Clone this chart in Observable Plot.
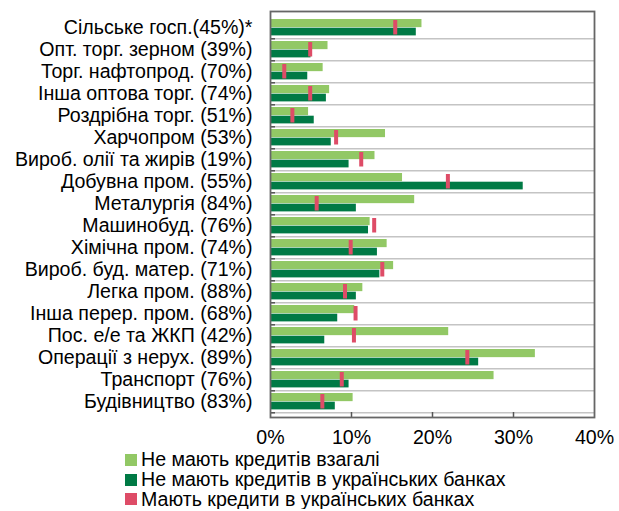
<!DOCTYPE html>
<html>
<head>
<meta charset="utf-8">
<script src="https://cdn.jsdelivr.net/npm/d3@7"></script>
<script src="https://cdn.jsdelivr.net/npm/@observablehq/plot@0.6"></script>
<style>
  body { margin: 0; background: #fff; font-family: "Liberation Sans", Arial, sans-serif; }
  #legend { margin-left: 125px; margin-top: 0px; font-size: 19.6px; color: #000; }
  .item { display: flex; align-items: center; height: 19.8px; white-space: nowrap; }
  .sw { width: 12px; height: 12px; margin-right: 4px; flex: none; }
</style>
</head>
<body>
<div id="chart"></div>
<div id="legend"></div>
<script>
const categories = [
  "Сільське госп.(45%)*",
  "Опт. торг. зерном (39%)",
  "Торг. нафтопрод. (70%)",
  "Інша оптова торг. (74%)",
  "Роздрібна торг. (51%)",
  "Харчопром (53%)",
  "Вироб. олії та жирів (19%)",
  "Добувна пром. (55%)",
  "Металургія (84%)",
  "Машинобуд. (76%)",
  "Хімічна пром. (74%)",
  "Вироб. буд. матер. (71%)",
  "Легка пром. (88%)",
  "Інша перер. пром. (68%)",
  "Пос. е/е та ЖКП (42%)",
  "Операції з нерух. (89%)",
  "Транспорт (76%)",
  "Будівництво (83%)"
];
const noCredit     = [18.7, 7.1, 6.5, 7.3, 4.7, 14.2, 12.9, 16.3, 17.8, 12.3, 14.4, 15.2, 11.4, 10.4, 22.0, 32.7, 27.6, 10.2];
const noUaCredit   = [18.0, 5.0, 4.6, 6.9, 5.4, 7.5, 9.7, 31.2, 10.6, 12.1, 13.2, 13.5, 10.6, 8.3, 6.7, 25.7, 9.7, 8.0];
const haveUaCredit = [15.4, 4.9, 1.7, 4.9, 2.7, 8.1, 11.2, 21.9, 5.7, 12.8, 9.9, 13.8, 9.2, 10.5, 10.3, 24.3, 8.8, 6.4];
const xTicks = [0, 10, 20, 30, 40];
const seriesNames = ["Не мають кредитів взагалі", "Не мають кредитів в українських банках", "Мають кредити в українських банках"];
const colors = ["#92c865", "#007a45", "#de4c67"];

const rows = categories.map((c, i) => ({cat: c, a: noCredit[i], b: noUaCredit[i], c: haveUaCredit[i]}));

const W = 619, H = 450, mL = 270, mR = 25, mT = 11, mB = 33;
const band = (H - mT - mB) / categories.length;

const chart = Plot.plot({
  width: W, height: H,
  marginLeft: mL, marginRight: mR, marginTop: mT, marginBottom: mB,
  style: {fontFamily: "'Liberation Sans', Arial, sans-serif", fontSize: "19.6px", color: "#000", background: "#fff", overflow: "visible"},
  x: {domain: [0, 40]},
  y: {domain: categories, padding: 0},
  marks: [
    Plot.ruleY(categories, {y: d => d, dy: band / 2, stroke: "#c4c4c4", strokeWidth: 1.5}),
    Plot.ruleY(categories, {y: d => d, dy: band / 2, stroke: "#555", strokeWidth: 1.5, insetRight: W - mL - mR - 5}),
    Plot.barX(rows, {y: "cat", x: "a", fill: colors[0], insetTop: 3, insetBottom: band - 11.7}),
    Plot.barX(rows, {y: "cat", x: "b", fill: colors[1], insetTop: 11.7, insetBottom: 2.6}),
    Plot.tickX(rows, {y: "cat", x: "c", stroke: colors[2], strokeWidth: 4, insetTop: 4, insetBottom: 3.5}),
    Plot.ruleX([10, 20, 30], {x: d => d, stroke: "#555", strokeWidth: 1.5, insetTop: H - mT - mB - 5}),
    Plot.frame({stroke: "#666", strokeWidth: 1.8}),
    Plot.axisX({ticks: xTicks, tickFormat: d => d + "%", tickSize: 0, tickPadding: 13, fontSize: 19.6, label: null}),
    Plot.axisY({tickSize: 0, tickPadding: 18, fontSize: 19.6, label: null})
  ]
});
document.getElementById("chart").appendChild(chart);

const legend = document.getElementById("legend");
seriesNames.forEach((name, i) => {
  const it = document.createElement("div");
  it.className = "item";
  const sw = document.createElement("span");
  sw.className = "sw";
  sw.style.background = colors[i];
  const tx = document.createElement("span");
  tx.textContent = name;
  it.appendChild(sw);
  it.appendChild(tx);
  legend.appendChild(it);
});
</script>
</body>
</html>
